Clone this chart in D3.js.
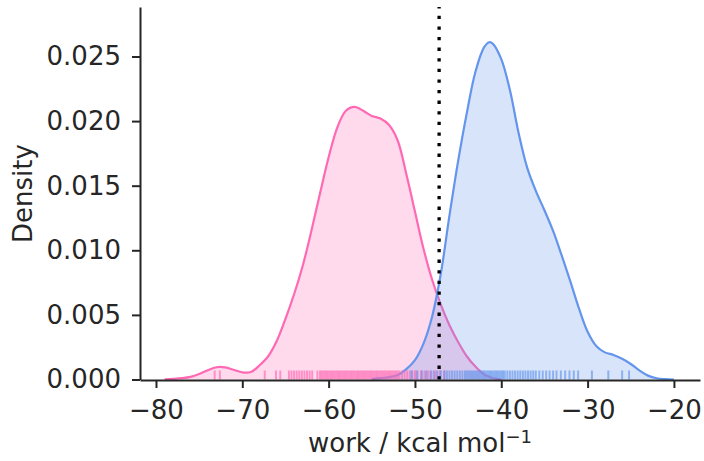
<!DOCTYPE html>
<html>
<head>
<meta charset="utf-8">
<script src="https://cdn.jsdelivr.net/npm/d3@7/dist/d3.min.js"></script>
<style>
  body { margin: 0; background: #fff; }
  svg { display: block; font-family: "DejaVu Sans", sans-serif; }
</style>
</head>
<body>
<svg id="chart" width="704" height="461"></svg>
<script>
// density curves (work in kcal/mol, density)
var pinkX = [-79, -78, -77, -76, -75, -74, -73, -72, -71, -70, -69, -68, -67, -66, -65, -64, -63, -62, -61, -60, -59, -58, -57, -56, -55, -54, -53, -52, -51, -50, -49, -48, -47, -46, -45, -44, -43, -42, -41, -40];
var pinkY = [0.00002, 0.00005, 0.0001, 0.0002, 0.00042, 0.00072, 0.00095, 0.00094, 0.00075, 0.00055, 0.00058, 0.0011, 0.0018, 0.003, 0.0047, 0.0066, 0.0088, 0.0115, 0.0144, 0.0172, 0.0195, 0.0208, 0.0211, 0.0208, 0.0204, 0.0202, 0.0197, 0.0185, 0.0159, 0.0130, 0.0101, 0.0077, 0.0058, 0.0042, 0.0029, 0.0018, 0.0010, 0.0004, 0.00012, 0.0];

var blueX = [-55, -54, -53, -52, -51, -50, -49, -48, -47, -46, -45, -44, -43, -42, -41.4, -41, -40, -39, -38, -37, -36, -35, -34, -33, -32, -31, -30, -29, -28, -27, -26, -25, -24, -23, -22, -21, -20];
var blueY = [0.00004, 0.0001, 0.00018, 0.00035, 0.0008, 0.0015, 0.0028, 0.0049, 0.0082, 0.0127, 0.0169, 0.0206, 0.0238, 0.0257, 0.0261, 0.0260, 0.0248, 0.0224, 0.0191, 0.0164, 0.0146, 0.0131, 0.0115, 0.0096, 0.0076, 0.0055, 0.0037, 0.0026, 0.0021, 0.0019, 0.0016, 0.0012, 0.0007, 0.0003, 0.0001, 0.00003, 0.0];

// rug samples
var pinkRug = [-73.2, -72.6, -67.4, -66.1, -65.6, -64.6, -64.3, -64.0, -63.7, -63.4, -63.1, -62.8, -62.5, -62.2, -61.9, -61.3, -61.0, -60.8, -60.6, -60.4, -60.2, -60.0, -59.8, -59.6, -59.4, -59.2, -59.0, -58.8, -58.6, -58.4, -58.2, -58.0, -57.8, -57.6, -57.4, -57.2, -57.0, -56.8, -56.6, -56.4, -56.2, -56.0, -55.8, -55.6, -55.4, -55.2, -55.0, -54.8, -54.6, -54.4, -54.2, -54.0, -53.8, -53.6, -53.4, -53.2, -53.0, -52.8, -52.6, -52.4, -52.2, -52.0, -51.8, -51.5, -51.2, -50.9, -50.6, -50.3, -50.0, -49.7, -49.3, -48.9, -48.5, -48.1, -47.6, -47.1, -46.6];
var blueRug = [-50.4, -49.8, -49.2, -48.7, -48.2, -47.8, -47.4, -47.0, -46.6, -46.3, -46.0, -45.7, -45.4, -45.1, -44.8, -44.5, -44.2, -44.0, -43.8, -43.6, -43.4, -43.2, -43.0, -42.8, -42.6, -42.4, -42.2, -42.0, -41.8, -41.6, -41.4, -41.2, -41.0, -40.8, -40.6, -40.4, -40.2, -40.0, -39.8, -39.6, -39.3, -39.0, -38.7, -38.4, -38.1, -37.8, -37.5, -37.2, -36.9, -36.6, -36.3, -36.0, -35.6, -35.2, -34.8, -34.4, -34.0, -33.6, -33.1, -32.6, -32.1, -31.6, -31.1, -29.5, -27.6, -26.0, -25.2];

var cutoff = -47.2;
var xTicks = [-80, -70, -60, -50, -40, -30, -20];
var yTicks = [0, 0.005, 0.010, 0.015, 0.020, 0.025];

var svg = d3.select("#chart");
var x = d3.scaleLinear().domain([-81.85, -16.98]).range([140, 700]);
var y = d3.scaleLinear().domain([0, 0.02883]).range([379.5, 7]);

function drawKde(xs, ys, col) {
    var pts = xs.map(function(d, i) { return [d, ys[i]]; });
    var area = d3.area().curve(d3.curveCatmullRom.alpha(0.5))
        .x(function(d) { return x(d[0]); })
        .y0(y(0))
        .y1(function(d) { return y(d[1]); });
    var line = d3.line().curve(d3.curveCatmullRom.alpha(0.5))
        .x(function(d) { return x(d[0]); })
        .y(function(d) { return y(d[1]); });
    svg.append("path").attr("d", area(pts))
        .style("fill", col).style("fill-opacity", 0.25);
    svg.append("path").attr("d", line(pts))
        .style("fill", "none").style("stroke", col).style("stroke-width", 2.2);
}

drawKde(pinkX, pinkY, "#ff69b4");
drawKde(blueX, blueY, "#6495ed");

function drawRug(vals, col) {
    svg.append("g").selectAll("line").data(vals).enter().append("line")
        .attr("x1", function(d) { return x(d); })
        .attr("x2", function(d) { return x(d); })
        .attr("y1", y(0))
        .attr("y2", y(0) - 9)
        .style("stroke", col)
        .style("stroke-width", 2)
        .style("stroke-opacity", 0.65);
}
drawRug(pinkRug, "#ff69b4");
drawRug(blueRug, "#6495ed");

svg.append("line")
    .attr("x1", x(cutoff)).attr("x2", x(cutoff))
    .attr("y1", y(0)).attr("y2", 7)
    .style("stroke", "black")
    .style("stroke-width", 3.3)
    .style("stroke-dasharray", "3.3,7.3");

var xAxis = svg.append("g").attr("transform", "translate(0,380)")
    .call(d3.axisBottom(x).tickValues(xTicks).tickSize(8).tickPadding(13).tickSizeOuter(0)
        .tickFormat(function(d) { return d3.format("d")(d).replace("-", "\u2212"); }));
var yAxis = svg.append("g").attr("transform", "translate(140,0)")
    .call(d3.axisLeft(y).tickValues(yTicks).tickSize(8).tickPadding(11).tickSizeOuter(0)
        .tickFormat(d3.format(".3f")));

[xAxis, yAxis].forEach(function(a) {
    a.select(".domain").style("stroke", "#262626").style("stroke-width", 2);
    a.selectAll(".tick line").style("stroke", "#262626").style("stroke-width", 2);
    a.selectAll(".tick text").style("fill", "#262626").style("font-size", "26px")
        .style("font-family", "DejaVu Sans");
});

svg.append("text")
    .attr("transform", "translate(32,193.5) rotate(-90)")
    .attr("text-anchor", "middle")
    .style("font-size", "26px").style("fill", "#262626")
    .text("Density");

var xl = svg.append("text")
    .attr("x", 420).attr("y", 452)
    .attr("text-anchor", "middle")
    .style("font-size", "26px").style("fill", "#262626");
xl.append("tspan").text("work / kcal mol");
xl.append("tspan").attr("dy", -9).style("font-size", "18px").text("\u22121");
</script>
</body>
</html>
